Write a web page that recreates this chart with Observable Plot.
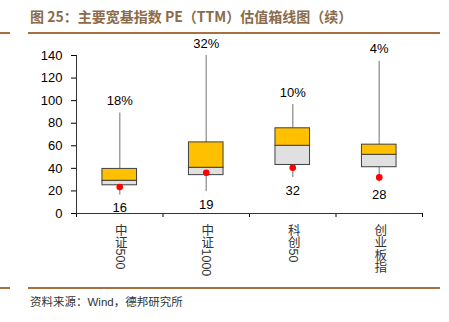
<!DOCTYPE html>
<html><head><meta charset="utf-8">
<script src="https://cdn.jsdelivr.net/npm/d3@7"></script>
<script src="https://cdn.jsdelivr.net/npm/@observablehq/plot@0.6"></script>
<style>
body{margin:0;background:#fff;}
#wrap{position:relative;width:449px;height:322px;overflow:hidden;background:#fff;}
#title{position:absolute;left:30px;top:6px;font-family:"Noto Sans CJK SC",sans-serif;font-weight:bold;font-size:14px;line-height:20px;color:#8B6B4A;white-space:nowrap;}
.hr{position:absolute;height:1.5px;background:#A9703F;}
#caption{position:absolute;left:30px;top:294px;font-family:"Liberation Sans","Noto Sans CJK SC",sans-serif;font-size:11.5px;line-height:17px;color:#333;white-space:nowrap;}
#chart{position:absolute;left:0;top:35px;}
.vt{writing-mode:vertical-rl;text-orientation:mixed;}
</style></head>
<body><div id="wrap">
<div id="title">图 25：主要宽基指数 PE（TTM）估值箱线图（续）</div>
<div class="hr" style="left:28px;top:32px;width:412px"></div>
<div class="hr" style="left:0;top:32px;width:10px"></div>
<div id="chart"></div>
<div class="hr" style="left:28px;top:287px;width:412px"></div>
<div class="hr" style="left:0;top:287px;width:10px"></div>
<div id="caption">资料来源：Wind，德邦研究所</div>
</div>
<script>
const categories = ["中证500", "中证1000", "科创50", "创业板指"];
const maxV = [89, 140, 96.5, 135];
const q3V = [39.5, 63, 75.5, 61];
const medV = [29, 40.5, 60, 52];
const q1V = [25, 34, 43, 41];
const minV = [16.5, 19.5, 32, 28];
const curV = [23.5, 36, 40.5, 32];
const pctLabels = ["18%", "32%", "10%", "4%"];
const minLabels = ["16", "19", "32", "28"];
const yTicks = [0, 20, 40, 60, 80, 100, 120, 140];

const data = categories.map((c, i) => ({
  c, i, max: maxV[i], q3: q3V[i], med: medV[i], q1: q1V[i], min: minV[i], cur: curV[i],
  pct: pctLabels[i], minL: minLabels[i]
}));
const half = 0.2;
const cx = d => d.i + 0.5;

const chart = Plot.plot({
  width: 449, height: 250,
  marginLeft: 76, marginRight: 27, marginTop: 20, marginBottom: 72,
  x: {domain: [0, 4], ticks: [0, 1, 2, 3, 4], tickSize: 4, tickFormat: () => "", label: null},
  y: {domain: [0, 140], ticks: yTicks, tickSize: 5, tickPadding: 9, label: null},
  style: {fontFamily: "'Liberation Sans', Arial, sans-serif", fontSize: "13px", color: "#000", background: "transparent"},
  marks: [
    Plot.ruleX(data, {x: cx, y1: "q3", y2: "max", stroke: "#A0A0A0", strokeWidth: 1.5}),
    Plot.ruleX(data, {x: cx, y1: "min", y2: "q1", stroke: "#A0A0A0", strokeWidth: 1.5}),
    Plot.rect(data, {x1: d => cx(d) - half, x2: d => cx(d) + half, y1: "q1", y2: "med", fill: "#E0E0E0", stroke: "#404040", strokeWidth: 1}),
    Plot.rect(data, {x1: d => cx(d) - half, x2: d => cx(d) + half, y1: "med", y2: "q3", fill: "#FFC000", stroke: "#404040", strokeWidth: 1}),
    Plot.dot(data, {x: cx, y: "cur", r: 3.3, fill: "#FF0000", stroke: null}),
    Plot.text(data, {x: cx, y: "max", text: "pct", dy: -12, fontSize: 13, fill: "#000"}),
    Plot.text(data, {x: cx, y: "min", text: "minL", dy: 13, fontSize: 13, fill: "#000"}),
    Plot.text(data, {x: cx, y: 0, text: "c", dy: 10, textAnchor: "start", lineAnchor: "top", fontSize: 12.5, fill: "#333", fontFamily: "'Liberation Sans', 'Noto Sans CJK SC', sans-serif"}),
    Plot.ruleX([0], {stroke: "#333", strokeWidth: 1}),
    Plot.ruleY([0], {stroke: "#333", strokeWidth: 1})
  ]
});
d3.select(chart).selectAll("text")
  .filter(function() { return categories.includes(this.textContent); })
  .classed("vt", true)
  .attr("writing-mode", "vertical-rl")
  .attr("text-anchor", "start")
  .attr("dy", null)
  .attr("y", null);
document.getElementById("chart").appendChild(chart);
</script>
</body></html>
